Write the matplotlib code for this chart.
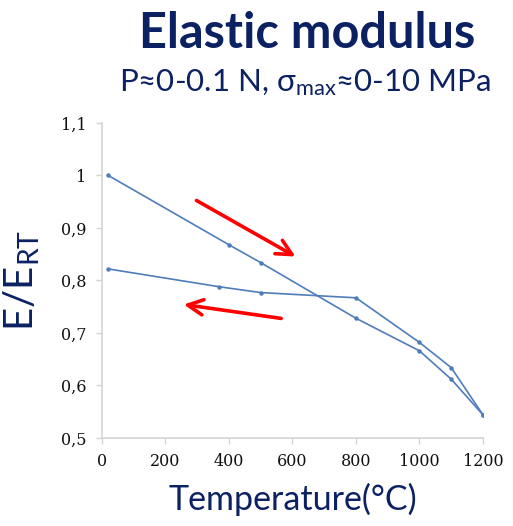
import matplotlib.pyplot as plt
import numpy as np

# heating branch (room temp -> 1200 C)
heat_T = [20, 400, 500, 800, 1000, 1100, 1200]
heat_E = [1.0, 0.868, 0.834, 0.728, 0.666, 0.612, 0.544]
# cooling branch (1200 C -> room temp)
cool_T = [1200, 1100, 1000, 800, 500, 370, 20]
cool_E = [0.544, 0.634, 0.682, 0.767, 0.777, 0.788, 0.822]

xticks = [0, 200, 400, 600, 800, 1000, 1200]
yticks = [0.5, 0.6, 0.7, 0.8, 0.9, 1.0, 1.1]
ylabels = ['0,5', '0,6', '0,7', '0,8', '0,9', '1', '1,1']

navy = '#0b2162'
blue = '#4f7dbb'
grey = '#d4d4d4'

plt.rcParams['mathtext.fontset'] = 'custom'
plt.rcParams['mathtext.rm'] = 'Lato'
plt.rcParams['mathtext.it'] = 'Lato'

fig = plt.figure(figsize=(5.13, 5.26), dpi=100)
ax = fig.add_axes([0.1988, 0.1673, 0.7427, 0.5989])

ax.plot(heat_T, heat_E, color=blue, lw=1.2, marker='o', ms=2.2)
ax.plot(cool_T, cool_E, color=blue, lw=1.2, marker='o', ms=2.2)

ax.set_xlim(0, 1200)
ax.set_ylim(0.5, 1.1)
ax.set_xticks(xticks)
ax.set_xticklabels([str(t) for t in xticks])
ax.set_yticks(yticks)
ax.set_yticklabels(ylabels)
ax.tick_params(colors=grey, length=4, width=1, labelcolor='#111111',
               labelsize=11.5, pad=7)
for lab in ax.get_xticklabels() + ax.get_yticklabels():
    lab.set_family('DejaVu Serif')

for s in ['top', 'right']:
    ax.spines[s].set_visible(False)
for s in ['left', 'bottom']:
    ax.spines[s].set_color(grey)
    ax.spines[s].set_linewidth(1.2)

# red arrows showing direction
arrow = dict(arrowstyle='->,head_length=1.1,head_width=0.55', color='#ff0000', lw=2.6)
ax.annotate('', xy=(617, 0.843), xytext=(290, 0.955), arrowprops=arrow)
ax.annotate('', xy=(249, 0.755), xytext=(573, 0.727), arrowprops=arrow)

ax.set_xlabel('Temperature(°C)', family=['Lato', 'DejaVu Sans'], fontsize=24.5,
              color=navy, labelpad=9)
ax.set_ylabel(r'E/E$_{\mathrm{RT}}$', family=['Lato', 'DejaVu Sans'], fontsize=29,
              color=navy, labelpad=14)

fig.text(0.598, 0.937, 'Elastic modulus', ha='center', va='center',
         family=['Lato', 'DejaVu Sans'], fontweight='bold', fontsize=35, color=navy)
fig.text(0.594, 0.842, r'P≈0-0.1 N, σ$_{\mathrm{max}}$≈0-10 MPa', ha='center', va='center',
         family=['Lato', 'DejaVu Sans'], fontsize=22.5, color=navy)

fig.savefig('out.png', dpi=100)
